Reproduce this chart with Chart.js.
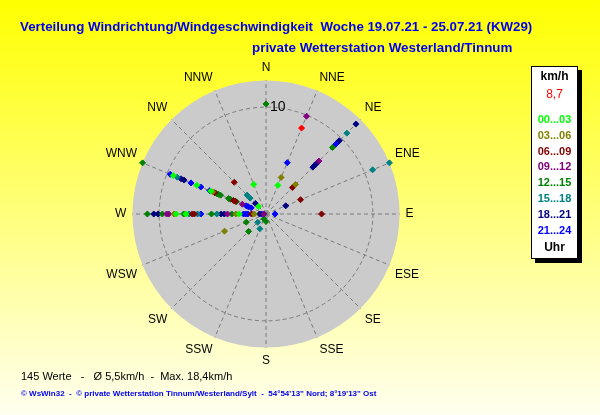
<!DOCTYPE html>
<html>
<head>
<meta charset="utf-8">
<script src="https://cdn.jsdelivr.net/npm/chart.js@4/dist/chart.umd.min.js"></script>
<style>
  body { margin: 0; overflow: hidden; }
  #wrap {
    position: relative; width: 600px; height: 415px;
    background: linear-gradient(to bottom, #ffff00 0%, #fffff0 100%);
    font-family: "Liberation Sans", Arial, sans-serif;
  }
  #wind { position: absolute; left: 0; top: 0; }
  .txt { position: absolute; white-space: pre; line-height: 1; }
  #t1 { left: 20px; top: 20px; font-size: 13.3px; font-weight: bold; color: #0000f0; }
  #t2 { left: 252px; top: 41px; font-size: 13.4px; font-weight: bold; color: #0000f0; }
  #stats { left: 21px; top: 371px; font-size: 11px; color: #000; }
  #foot { left: 21px; top: 390px; font-size: 8px; font-weight: bold; color: #0000f0; }
  #legend {
    position: absolute; left: 531px; top: 66px; width: 45px; height: 191px;
    background: #fff; border: 1px solid #000; box-shadow: 4px 4px 0 #000;
  }
  #legend div { position: absolute; left: 0; width: 45px; text-align: center; font-size: 11px; font-weight: bold; line-height: 1; }
</style>
</head>
<body>
<div id="wrap">
  <canvas id="wind" width="600" height="415"></canvas>
  <div class="txt" id="t1">Verteilung Windrichtung/Windgeschwindigkeit  Woche 19.07.21 - 25.07.21 (KW29)</div>
  <div class="txt" id="t2">private Wetterstation Westerland/Tinnum</div>
  <div class="txt" id="stats">145 Werte   -   Ø 5,5km/h  -  Max. 18,4km/h</div>
  <div class="txt" id="foot">© WsWin32  -  © private Wetterstation Tinnum/Westerland/Sylt  -  54°54'13" Nord; 8°19'13" Ost</div>
  <div id="legend"></div>
</div>
<script>
var directions = ['N', 'NNE', 'NE', 'ENE', 'E', 'ESE', 'SE', 'SSE', 'S', 'SSW', 'SW', 'WSW', 'W', 'WNW', 'NW', 'NNW'];
var timeRanges = ['00...03', '03...06', '06...09', '09...12', '12...15', '15...18', '18...21', '21...24'];
var timeColors = ['#00ff00', '#808000', '#800000', '#800080', '#008000', '#008080', '#000080', '#0000ff'];

// [direction, km/h]
var h00_03 = [['NNE', 2.9], ['NNW', 3.0], ['NW', 1.0], ['WNW', 9.4], ['WNW', 7.0], ['WNW', 5.6],
              ['W', 8.4], ['W', 7.5], ['W', 2.5]];
var h03_06 = [['NNE', 3.7], ['NE', 3.9], ['WNW', 5.4], ['W', 8.6], ['W', 2.8], ['W', 1.1], ['WSW', 4.2]];
var h06_09 = [['NE', 3.5], ['ENE', 3.5], ['E', 5.2], ['NW', 4.2], ['WNW', 5.2], ['WNW', 3.3], ['WNW', 3.1],
              ['W', 6.9], ['W', 6.7], ['W', 1.35]];
var h09_12 = [['NNE', 9.9], ['NE', 7.0], ['WNW', 2.4], ['W', 9.3], ['W', 9.1], ['W', 3.6], ['W', 0.2]];
var h12_15 = [['N', 10.3], ['NE', 8.8], ['WNW', 12.5], ['WNW', 5.0], ['WNW', 4.8], ['WNW', 4.6], ['WNW', 3.8],
              ['WNW', 3.6], ['WNW', 3.0], ['W', 11.1], ['W', 9.7], ['W', 7.7], ['W', 5.1], ['W', 3.2],
              ['WSW', 2.0], ['SW', 2.3], ['S', 0.7], ['SSW', 0.5]];
var h15_18 = [['NE', 10.7], ['ENE', 10.8], ['ENE', 12.5], ['NW', 2.5], ['NW', 2.1], ['WNW', 9.0],
              ['W', 7.2], ['W', 6.4], ['W', 4.6], ['SW', 1.1], ['SSW', 1.5]];
var h18_21 = [['NE', 11.9], ['NE', 9.7], ['NE', 6.2], ['NE', 6.4], ['NE', 6.8], ['ENE', 2.0], ['NW', 1.4],
              ['WNW', 8.6], ['WNW', 8.3], ['W', 10.5], ['W', 10.1], ['W', 4.2], ['W', 3.9], ['W', 0.6]];
var h21_24 = [['NNE', 5.2], ['NE', 9.4], ['NE', 9.2], ['NE', 6.6], ['E', 0.85], ['WNW', 9.7], ['WNW', 7.6],
              ['WNW', 6.6], ['WNW', 5.7], ['WNW', 2.0], ['WNW', 1.8], ['WNW', 1.5],
              ['W', 6.1], ['W', 2.1], ['W', 1.9], ['W', 1.7], ['W', 0.4]];
var current = [['NNE', 8.7]];

var buckets = [h00_03, h03_06, h06_09, h09_12, h12_15, h15_18, h18_21, h21_24];

// a radar dataset holds one value per direction, so stack repeats into layers
function layers(points) {
    var byDir = {};
    points.forEach(function(p) {
        (byDir[p[0]] = byDir[p[0]] || []).push(p[1]);
    });
    var n = 0;
    for (var d in byDir) n = Math.max(n, byDir[d].length);
    var out = [];
    for (var k = 0; k < n; k++) {
        out.push(directions.map(function(dir) {
            return byDir[dir] && byDir[dir][k] !== undefined ? byDir[dir][k] : null;
        }));
    }
    return out;
}

function dots(values, color) {
    return {
        data: values,
        showLine: false,
        fill: false,
        pointStyle: 'rectRot',
        pointRadius: 3,
        pointBorderWidth: 1,
        pointBackgroundColor: color,
        pointBorderColor: color
    };
}

var datasets = [];
buckets.forEach(function(b, i) {
    layers(b).forEach(function(v) { datasets.push(dots(v, timeColors[i])); });
});
layers(current).forEach(function(v) { datasets.push(dots(v, '#ff0000')); });

// legend box
var lg = document.getElementById('legend');
function legendLine(text, top, color, weight, size) {
    var el = document.createElement('div');
    el.textContent = text;
    el.style.top = top + 'px';
    el.style.color = color;
    if (weight) el.style.fontWeight = weight;
    if (size) el.style.fontSize = size + 'px';
    lg.appendChild(el);
}
legendLine('km/h', 3, '#000', 'bold', 12);
legendLine(current[0][1].toString().replace('.', ','), 21, '#ff0000', 'normal', 12);
timeRanges.forEach(function(t, i) {
    legendLine(t, 47 + i * 15.8, timeColors[i]);
});
legendLine('Uhr', 174, '#000', 'bold', 12);

new Chart(document.getElementById('wind'), {
    type: 'radar',
    data: { labels: directions, datasets: datasets },
    options: {
        responsive: false,
        animation: false,
        devicePixelRatio: 1,
        layout: { padding: { left: 80, right: 148, top: 60, bottom: 47 } },
        plugins: { legend: { display: false }, tooltip: { enabled: false } },
        scales: {
            r: {
                min: 0,
                max: 12.5,
                backgroundColor: '#cbcbcb',
                afterBuildTicks: function(scale) {
                    scale.ticks = [{ value: 0 }, { value: 10 }];
                },
                grid: { circular: true, color: '#7a7a7a', lineWidth: 1 },
                border: { dash: [4, 3] },
                angleLines: { color: '#7a7a7a', lineWidth: 1, borderDash: [4, 3] },
                pointLabels: {
                    color: '#000',
                    padding: 6,
                    font: { family: 'Liberation Sans', size: 12 }
                },
                ticks: {
                    color: '#000',
                    showLabelBackdrop: false,
                    backdropPadding: -7,
                    font: { family: 'Liberation Sans', size: 14 },
                    callback: function(v) { return '      ' + v; }
                }
            }
        }
    }
});
</script>
</body>
</html>
